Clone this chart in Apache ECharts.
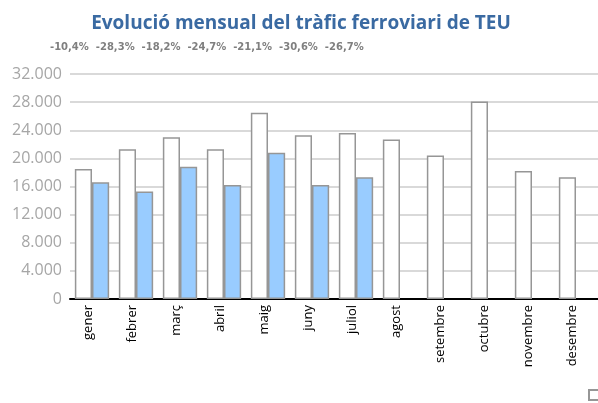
<!DOCTYPE html>
<html>
<head>
<meta charset="utf-8">
<script src="https://cdn.jsdelivr.net/npm/echarts@6/dist/echarts.min.js"></script>
<style>
  html, body { margin: 0; padding: 0; background: #fff; }
  #chart { width: 598px; height: 403px; }
</style>
</head>
<body>
<div id="chart"></div>
<script>
// Monthly rail TEU traffic: previous year vs current year
const months = ['gener', 'febrer', 'març', 'abril', 'maig', 'juny', 'juliol',
  'agost', 'setembre', 'octubre', 'novembre', 'desembre'];
const previousYear = [18500, 21300, 23000, 21300, 26500, 23300, 23600,
  22700, 20400, 28100, 18200, 17300];
const currentYear = [16600, 15300, 18800, 16200, 20800, 16200, 17300,
  null, null, null, null, null];
const changes = ['-10,4%', '-28,3%', '-18,2%', '-24,7%', '-21,1%', '-30,6%', '-26,7%'];
const yTicks = { min: 0, max: 32000, interval: 4000 };

const chart = echarts.init(document.getElementById('chart'), null, { renderer: 'canvas' });

const fmt = v => String(v).replace(/\B(?=(\d{3})+(?!\d))/g, '.');

chart.setOption({
  animation: false,
  backgroundColor: '#fff',
  title: [
    {
      text: 'Evolució mensual del tràfic ferroviari de TEU',
      left: 301,
      textAlign: 'center',
      top: 14,
      padding: 0,
      textStyle: { fontFamily: 'Open Sans', fontWeight: 'bold', fontSize: 19, color: '#3a6aa2' }
    },
    {
      text: changes.join('  '),
      left: 50,
      top: 42,
      padding: 0,
      textStyle: { fontFamily: 'DejaVu Sans', fontWeight: 'bold', fontSize: 10, color: '#7f7f7f' }
    }
  ],
  legend: {
    left: 588, top: 389, padding: 0,
    itemWidth: 10, itemHeight: 10,
    data: [{ name: 'anterior', icon: 'rect' }],
    textStyle: { fontSize: 11 }
  },
  grid: { left: 70, right: 0, top: 74, bottom: 104, containLabel: false },
  xAxis: {
    type: 'category',
    data: months,
    axisLine: { lineStyle: { color: '#000', width: 2 } },
    axisTick: { show: false },
    axisLabel: {
      rotate: 90, margin: 6, color: '#000',
      fontFamily: 'Open Sans', fontSize: 13,
      verticalAlign: 'bottom',
      lineHeight: 7
    }
  },
  yAxis: {
    type: 'value',
    min: yTicks.min, max: yTicks.max, interval: yTicks.interval,
    axisLine: { show: false },
    axisTick: { show: false },
    splitLine: { lineStyle: { color: '#d9d9d9', width: 2 } },
    axisLabel: {
      color: '#a6a6a6', fontFamily: 'Open Sans', fontSize: 16, margin: 8,
      formatter: fmt
    }
  },
  series: [
    {
      name: 'anterior', type: 'bar', data: previousYear,
      barGap: '0%', barCategoryGap: '22%',
      itemStyle: { color: '#ffffff', borderColor: '#969696', borderWidth: 1.5 }
    },
    {
      name: 'actual', type: 'bar', data: currentYear,
      itemStyle: { color: '#99ccff', borderColor: '#969696', borderWidth: 1.5 }
    }
  ]
});
</script>
</body>
</html>
